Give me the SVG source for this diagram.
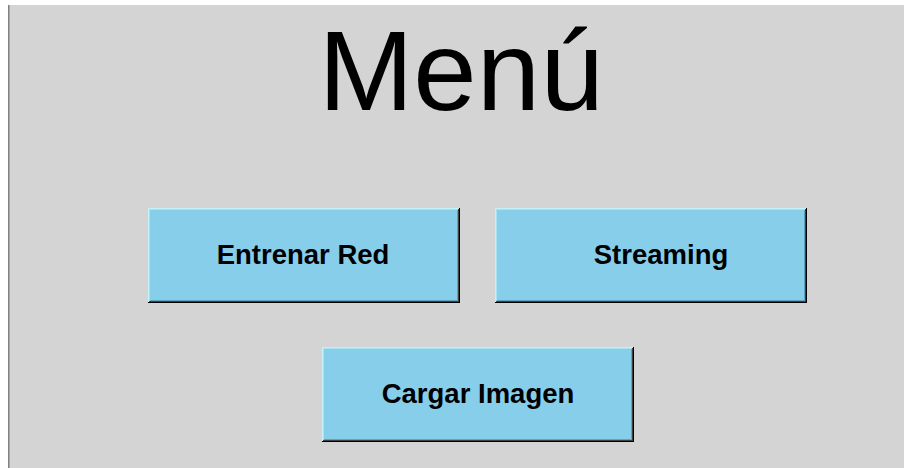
<svg xmlns="http://www.w3.org/2000/svg" width="904" height="468" viewBox="0 0 904 468">
  <style>
    .b0 { fill: #000000; }
    .b1 { fill: #c4f2f4; }
    .b2 { fill: #404040; }
    .b3 { fill: #a6e2f2; }
    .b4 { fill: #5ea4c0; }
    .face { fill: #87ceeb; }
    .label { font-family: "Liberation Sans", Arial, sans-serif; font-weight: bold; font-size: 27.5px; fill: #000; text-anchor: middle; }
    .title { font-family: "Liberation Sans", Arial, sans-serif; font-size: 114px; fill: #000; text-anchor: middle; }
  </style>
  <defs>
    <!-- raised button bevel, 312 x 95 -->
    <g id="bevel">
      <rect class="b0" x="0" y="0" width="312" height="95"/>
      <rect class="b1" x="0" y="0" width="311" height="94"/>
      <rect class="b2" x="1" y="1" width="310" height="93"/>
      <rect class="b3" x="1" y="1" width="309" height="92"/>
      <rect class="b4" x="2" y="2" width="308" height="91"/>
      <rect class="face" x="2" y="2" width="307" height="90"/>
    </g>
  </defs>

  <!-- window background -->
  <rect x="0" y="0" width="904" height="468" fill="#ffffff"/>
  <rect x="8" y="5" width="896" height="463" fill="#d4d4d4"/>
  <rect x="8" y="5" width="1" height="463" fill="#808080"/>
  <rect x="9" y="5" width="1" height="463" fill="#a8a8a8"/>

  <g id="title">
    <text class="title" x="461" y="110">Menú</text>
  </g>

  <g id="btn-entrenar" transform="translate(148,208)">
    <use href="#bevel"/>
    <text class="label" x="155" y="56">Entrenar Red</text>
  </g>

  <g id="btn-streaming" transform="translate(495,208)">
    <use href="#bevel"/>
    <text class="label" x="166" y="56">Streaming</text>
  </g>

  <g id="btn-cargar" transform="translate(322,347)">
    <use href="#bevel"/>
    <text class="label" x="156" y="56">Cargar Imagen</text>
  </g>

  <g id="connectors"/>
</svg>
